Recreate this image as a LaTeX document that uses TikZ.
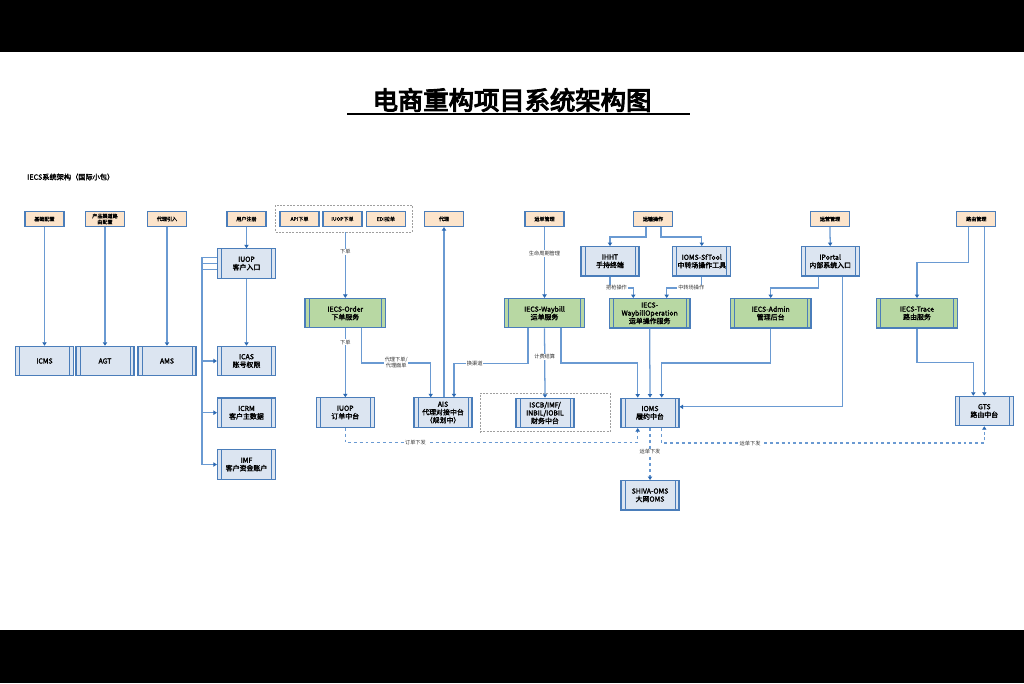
\documentclass[tikz,border=0pt]{standalone}
\usepackage{fontspec}
\setmainfont{Noto Sans CJK SC}[AutoFakeBold=2]
\newfontfamily\heavyfont{Noto Sans CJK SC}[AutoFakeBold=4.5]
\usetikzlibrary{arrows.meta,calc}
\definecolor{lnc}{HTML}{6A9AD2}
\definecolor{arc}{HTML}{2C69B2}
\definecolor{bdr}{HTML}{4A7DBA}
\definecolor{orf}{HTML}{FCE4CB}
\definecolor{blf}{HTML}{DCE5F1}
\definecolor{grf}{HTML}{B8D8A3}
\newcommand\bxfont{\fontsize{5.2}{6}\selectfont\bfseries}
\newcommand\obfont{\fontsize{3.8}{4.4}\selectfont\bfseries}
\newcommand\lbfont{\fontsize{3.9}{4.5}\selectfont}
\tikzset{
  obox/.style={draw=bdr, line width=0.9pt, fill=orf, minimum width=29.25pt, minimum height=11.25pt, inner sep=0.5pt, align=center, font=\obfont},
  proc/.style={draw=bdr, line width=0.9pt, fill=blf, minimum width=43.5pt, minimum height=22pt, inner sep=1pt, align=center, font=\bxfont,
    path picture={\draw[bdr, line width=0.6pt] ([xshift=3pt]path picture bounding box.north west) -- ([xshift=3pt]path picture bounding box.south west) ([xshift=-3pt]path picture bounding box.north east) -- ([xshift=-3pt]path picture bounding box.south east);}},
  gproc/.style={proc, fill=grf, minimum width=60.5pt},
  grpbox/.style={draw=gray!75, line width=0.5pt, dash pattern=on 1.5pt off 1pt},
  conn/.style={draw=lnc, line width=0.95pt, -{Triangle[length=2.6pt,width=3.2pt,color=arc]}},
  dconn/.style={conn, dash pattern=on 2.2pt off 2.2pt},
  lbl/.style={fill=white, inner sep=0.6pt, font=\lbfont, align=center, text=black!80}
}
\begin{document}
\begin{tikzpicture}[x=0.75pt,y=-0.75pt]
\useasboundingbox (0,0) rectangle (1024,683);
\fill[white] (0,0) rectangle (1024,683);
\fill[black] (0,0) rectangle (1024,52);
\fill[black] (0,630) rectangle (1024,683);

% title
\node[font=\heavyfont\fontsize{19}{21}\selectfont\bfseries, inner sep=0] (title) at (512,100) {电商重构项目系统架构图};
\draw[line width=1.2pt] (347,114) -- (690,114);
\node[anchor=west, font=\fontsize{5.4}{6}\selectfont\bfseries, inner sep=0] (sub) at (27,177) {IECS系统架构（国际小包）};

% groups
\node[grpbox, minimum width=102.2pt, minimum height=20.25pt] (grp) at (343.8,218.5) {};
\node[grpbox, minimum width=97.5pt, minimum height=28.8pt] (fgrp) at (545,412.5) {};

% top orange boxes
\node[obox] (o1) at (44.5,219) {基础配置};
\node[obox] (o2) at (105,219) {产品渠道路\\由配置};
\node[obox] (o3) at (167,219) {代理引入};
\node[obox] (o4) at (246.5,219) {用户注册};
\node[obox] (o5) at (299.5,219) {API下单};
\node[obox] (o6) at (342.5,219) {IUOP下单};
\node[obox] (o7) at (386,219) {EDI拉单};
\node[obox] (o8) at (444,219) {代理};
\node[obox] (o9) at (544.5,219) {运单管理};
\node[obox] (o10) at (653,219) {运输操作};
\node[obox] (o11) at (830,219) {运营管理};
\node[obox] (o12) at (976.3,219) {路由管理};

% blue process boxes
\node[proc] (iuopc) at (246.5,263.5) {IUOP\\客户入口};
\node[proc] (icms) at (44.5,361) {ICMS};
\node[proc] (agt) at (105,361) {AGT};
\node[proc] (ams) at (167,361) {AMS};
\node[proc] (icas) at (246.5,361) {ICAS\\账号权限};
\node[proc] (icrm) at (246.5,412.7) {ICRM\\客户主数据};
\node[proc] (imf) at (246.5,464.5) {IMF\\客户资金账户};
\node[proc] (ihht) at (610,261.3) {IHHT\\手持终端};
\node[proc] (sftool) at (701.8,261.3) {IOMS-SfTool\\中转场操作工具};
\node[proc] (iportal) at (830.2,261.3) {IPortal\\内部系统入口};
\node[proc] (iuopo) at (345.3,412.5) {IUOP\\订单中台};
\node[proc] (ais) at (443,412.5) {AIS\\代理对接中台\\（规划中）};
\node[proc] (fin) at (545,413) {ISCB/IMF/\\INBIL/IOBIL\\财务中台};
\node[proc] (ioms) at (650,412.8) {IOMS\\履约中台};
\node[proc] (gts) at (984.3,411) {GTS\\路由中台};
\node[proc] (shiva) at (650,495.3) {SHIVA-OMS\\大网OMS};

% green service boxes
\node[gproc] (order) at (345.3,313.2) {IECS-Order\\下单服务};
\node[gproc] (waybill) at (544.5,313.2) {IECS-Waybill\\运单服务};
\node[gproc] (wbop) at (649.7,313.3) {IECS-\\WaybillOperation\\运单操作服务};
\node[gproc] (admin) at (770.7,313.3) {IECS-Admin\\管理后台};
\node[gproc] (trace) at (917,313.3) {IECS-Trace\\路由服务};

% connectors - left
\draw[conn] (o1.south) -- (o1.south |- icms.north);
\draw[conn] (o2.south) -- (o2.south |- agt.north);
\draw[conn] (o3.south) -- (o3.south |- ams.north);
\draw[conn] (o4.south) -- (o4.south |- iuopc.north);
\draw[conn] (iuopc.south) -- (icas.north);
\draw[conn] ($(iuopc.west)+(0,-5.8)$) -- ++(-15,0) |- (icas.west);
\draw[conn] (iuopc.west) -- ++(-15,0) |- (icrm.west);
\draw[conn] ($(iuopc.west)+(0,5.8)$) -- ++(-15,0) |- (imf.west);

% order
\draw[conn] (order.north |- grp.south) -- node[lbl, pos=0.3] {下单} (order.north);
\draw[conn] (order.south) -- node[lbl, pos=0.2] {下单} (iuopo.north);
\draw[conn] ($(order.south)+(16.4,0)$) -- ++(0,34.5) -| node[lbl, pos=0.25] {代理下单/\\代理面单} ($(ais.north)+(-12.3,0)$);
\draw[conn] ($(ais.north)+(1,0)$) -- (o8.south);

% waybill
\draw[conn] (o9.south) -- node[lbl, pos=0.37] {生命周期管理} (waybill.north);
\draw[conn] ($(waybill.south)+(-16.5,0)$) -- ++(0,35) -| node[lbl, pos=0.36] {换渠道} ($(ais.north)+(11,0)$);
\draw[conn] (waybill.south) -- node[lbl, pos=0.41] {计费结算} (fin.north);
\draw[conn] ($(waybill.south)+(16.5,0)$) -- ++(0,34.5) -| ($(ioms.north)+(-12.3,0)$);

% transport ops
\draw[conn] ($(o10.south)+(-7,0)$) -- ++(0,10) -| (ihht.north);
\draw[conn] ($(o10.south)+(8,0)$) -- ++(0,10) -| (sftool.north);
\draw[conn] (ihht.south) -- ++(0,11.3) -| node[lbl, pos=0.14] {把枪操作} ($(wbop.north)+(-16.4,0)$);
\draw[conn] (sftool.south) -- ++(0,11.3) -| node[lbl, pos=0.15] {中转场操作} ($(wbop.north)+(17,0)$);
\draw[conn] (wbop.south) -- (ioms.north);

% portal / admin
\draw[conn] (o11.south) -- (iportal.north);
\draw[conn] ($(iportal.south)+(-12,0)$) -- ++(0,11.3) -| (admin.north);
\draw[conn] (admin.south) -- ++(0,34.5) -| ($(ioms.north)+(11.7,0)$);
\draw[conn] ($(iportal.south)+(12,0)$) |- ($(ioms.east)+(0,-6)$);

% routing
\draw[conn] ($(o12.south)+(-8,0)$) -- ++(0,35.5) -| (trace.north);
\draw[conn] ($(o12.south)+(8,0)$) -- (gts.north);
\draw[conn] (trace.south) -- ++(0,34) -| ($(gts.north)+(-11,0)$);

% dashed
\draw[dconn] (iuopo.south) -- ++(0,15) -| node[lbl, pos=0.12] {订单下发} ($(ioms.south)+(-12.3,0)$);
\draw[dconn] ($(ioms.south)+(11.7,0)$) -- ++(0,15) -| node[lbl, pos=0.137] {运单下发} (gts.south);
\draw[dconn] (ioms.south) -- node[lbl, pos=0.46] {运单下发} (shiva.north);
\end{tikzpicture}
\end{document}
